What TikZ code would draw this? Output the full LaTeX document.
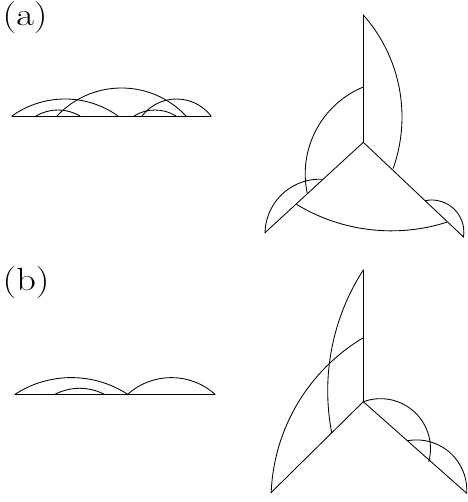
\documentclass[tikz,border=0pt]{standalone}
\begin{document}
\begin{tikzpicture}[x=1pt,y=1pt,
  ln/.style={line width=0.85pt, line cap=round, line join=round},
  lbl/.style={inner sep=0pt, anchor=base west, xscale=1.2, font=\fontsize{32}{38}\selectfont}]
\useasboundingbox (0,0) rectangle (467,502);
% labels
\node[lbl] (la) at (2.5,476.5) {(a)};
\node[lbl] (lb) at (2.5,211) {(b)};
% ---------- (a) linear ----------
\coordinate (a0) at (12,386);
\coordinate (a1) at (36,386);
\coordinate (a2) at (57,386);
\coordinate (a3) at (134,386);
\coordinate (a4) at (142,386);
\coordinate (a9) at (211,386);
\draw[ln] (a0) -- (a9);
\draw[ln] (a0) arc[start angle=125.58, end angle=54.42, radius=91.1];
\draw[ln] (a1) arc[start angle=120.51, end angle=59.49, radius=43.33];
\draw[ln] (a2) arc[start angle=136.93, end angle=43.07, radius=88.29];
\draw[ln] (a3) arc[start angle=121.89, end angle=58.11, radius=39.75];
\draw[ln] (a4) arc[start angle=142.46, end angle=37.54, radius=43.51];
% ---------- (a) three pages ----------
\coordinate (Oa) at (363.3,359.7);
\coordinate (Ta) at (363.3,487);
\coordinate (La) at (265,269.3);
\coordinate (Ra) at (463.5,265);
\coordinate (va2) at (363.3,415);
\coordinate (la3) at (323.3,322.7);
\coordinate (la4) at (296.7,297.5);
\coordinate (ra5) at (425,301.3);
\draw[ln] (Oa) -- (Ta);
\draw[ln] (Oa) -- (La);
\draw[ln] (Oa) -- (Ra);
\draw[ln] (Ta) arc[start angle=41.55, end angle=-19.55, radius=153.8];
\draw[ln] (va2) arc[start angle=112.46, end angle=192.07, radius=94];
\draw[ln] (La) arc[start angle=178.64, end angle=86.34, radius=54.8];
\draw[ln] (la4) arc[start angle=238.87, end angle=287.62, radius=183];
\draw[ln] (ra5) arc[start angle=102.04, end angle=-8.76, radius=32.15];
% ---------- (b) linear ----------
\coordinate (b0) at (15,107.7);
\coordinate (b1) at (55,107.7);
\coordinate (b2) at (127.7,107.7);
\coordinate (b9) at (215,107.7);
\draw[ln] (b0) -- (b9);
\draw[ln] (b0) arc[start angle=123.02, end angle=56.98, radius=103.4];
\draw[ln] (b1) arc[start angle=117.38, end angle=62.62, radius=53.6];
\draw[ln] (b2) arc[start angle=131.87, end angle=48.13, radius=65.4];
% ---------- (b) three pages ----------
\coordinate (Ob) at (363.3,100.3);
\coordinate (Tb) at (363.3,232);
\coordinate (Lb) at (271,9.3);
\coordinate (Rb) at (466.7,8.7);
\coordinate (vb2) at (363.3,164.3);
\coordinate (rb4) at (407.7,61.3);
\draw[ln] (Ob) -- (Tb);
\draw[ln] (Ob) -- (Lb);
\draw[ln] (Ob) -- (Rb);
\draw[ln] (Tb) arc[start angle=147.13, end angle=190.89, radius=222.4];
\draw[ln] (vb2) arc[start angle=120.78, end angle=177.79, radius=189];
\draw[ln] (Ob) arc[start angle=110.1, end angle=-15.0, radius=50];
\draw[ln] (rb4) arc[start angle=100.08, end angle=-3.53, radius=50.3];
\end{tikzpicture}
\end{document}
